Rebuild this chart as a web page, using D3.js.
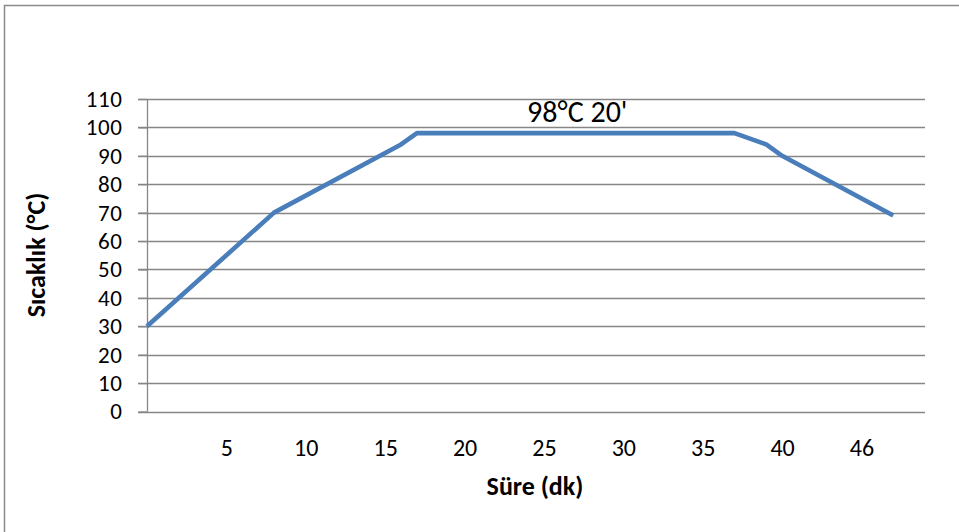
<!DOCTYPE html>
<html><head><meta charset="utf-8">
<script src="https://cdn.jsdelivr.net/npm/d3@7"></script>
<style>
html,body{margin:0;padding:0;background:#fff;}
svg text{font-family:Carlito,Calibri,Lato,"Open Sans",sans-serif;fill:#000;}
</style></head>
<body>
<script>
// Data
const timeMin = [0, 8, 16, 17, 37, 39, 40, 47];
const tempC   = [30, 70, 94, 98, 98, 94, 90, 69];
const xTickValues = [5, 10, 15, 20, 25, 30, 35, 40, 45];
const xTickLabels = ["5", "10", "15", "20", "25", "30", "35", "40", "46"];
const yTickValues = [0, 10, 20, 30, 40, 50, 60, 70, 80, 90, 100, 110];
const annotation = { text: "98°C 20'", x: 27.1, y: 102 };
const xTitle = "Süre (dk)";
const yTitle = "Sıcaklık (°C)";

const W = 959, H = 532;
const svg = d3.select("body").append("svg").attr("width", W).attr("height", H);

// outer border (only left/top visible)
svg.append("rect").attr("x", 4.5).attr("y", 5.5).attr("width", 1000).attr("height", 600)
  .attr("fill", "none").attr("stroke", "#8a8a8a").attr("stroke-width", 1.5);

const x = d3.scaleLinear().domain([0, 49]).range([147, 925]);
const y = d3.scaleLinear().domain([0, 110]).range([411.5, 99]);

// gridlines
svg.append("g").selectAll("line").data(yTickValues).join("line")
  .attr("x1", 138).attr("x2", 925)
  .attr("y1", d => Math.round(y(d)) + 0.5).attr("y2", d => Math.round(y(d)) + 0.5)
  .attr("stroke", "#868686").attr("stroke-width", 1.3);

// y axis
const yAxis = d3.axisLeft(y).tickValues(yTickValues).tickSize(9).tickPadding(16);
const gy = svg.append("g").attr("transform", "translate(147.5,0)").call(yAxis);
gy.select(".domain").attr("stroke", "#868686").attr("stroke-width", 1.3).attr("d", `M0,${y(110)}V${y(0)}`);
gy.selectAll(".tick line").attr("stroke", "#868686").attr("stroke-width", 1.3);
gy.selectAll(".tick text").attr("font-size", 23).attr("letter-spacing", 0.6).style("font-family", "Carlito,Calibri,Lato,sans-serif");

// x axis (labels only)
const xAxis = d3.axisBottom(x).tickValues(xTickValues).tickFormat((d, i) => xTickLabels[i]).tickSize(0).tickPadding(27);
const gx = svg.append("g").attr("transform", `translate(0,${y(0)})`).call(xAxis);
gx.select(".domain").remove();
gx.selectAll(".tick text").attr("font-size", 24).style("font-family", "Carlito,Calibri,Lato,sans-serif");

// line
const line = d3.line().x((d, i) => x(timeMin[i])).y(d => y(d));
svg.append("path").datum(tempC).attr("d", line).attr("fill", "none")
  .attr("stroke", "#4a7ebb").attr("stroke-width", 4.6).attr("stroke-linejoin", "round");

// annotation
svg.append("text").attr("x", x(annotation.x)).attr("y", y(annotation.y))
  .attr("text-anchor", "middle").attr("font-size", 30).text(annotation.text);

// axis titles
svg.append("text").attr("x", 535).attr("y", 495).attr("text-anchor", "middle")
  .attr("font-size", 26).attr("font-weight", "bold").text(xTitle);
svg.append("text").attr("transform", "translate(45,255) rotate(-90)").attr("text-anchor", "middle")
  .attr("font-size", 26).attr("font-weight", "bold").text(yTitle);
</script>
</body></html>
